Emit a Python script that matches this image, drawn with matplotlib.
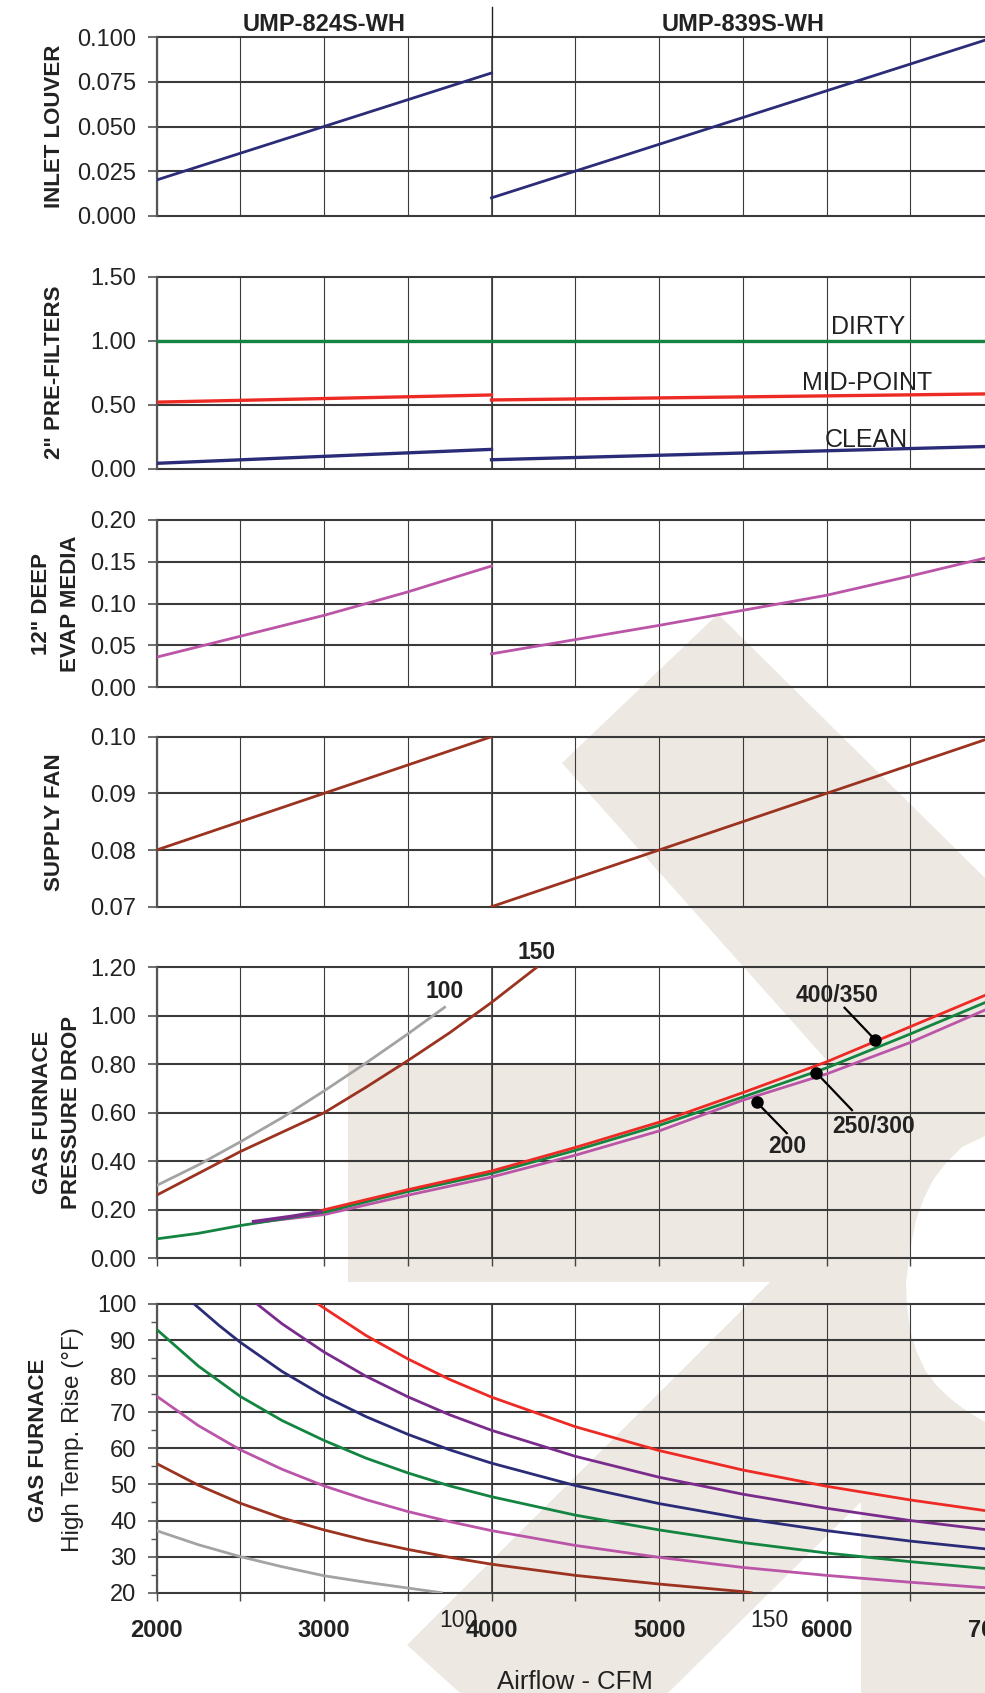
import matplotlib
matplotlib.use("Agg")
import matplotlib.pyplot as plt
import matplotlib.ticker as mtick
from matplotlib import font_manager
from matplotlib.patches import Polygon

# ── Fonts ─────────────────────────────────────────────────────────────────────

_names = {f.name for f in font_manager.fontManager.ttflist}
SANS = "Liberation Sans" if "Liberation Sans" in _names else "DejaVu Sans"

plt.rcParams.update({
    "font.family": SANS,
    "axes.spines.top": False,
    "axes.spines.right": False,
    "axes.spines.bottom": False,
})

# ── Colours ───────────────────────────────────────────────────────────────────

NAVY = "#2b2c78"
RED = "#ee2a25"
GREEN = "#138540"
ORCHID = "#bb55a8"
BROWN = "#9c3320"
GREY = "#a3a3a3"
PURPLE = "#7a2c8c"
GRIDC = "#3a3a3a"
INK = "#222222"
BEIGE = "#ede8e2"

# ── Data ──────────────────────────────────────────────────────────────────────

MODELS = ["UMP-824S-WH", "UMP-839S-WH"]
MODEL_CENTRES = [3000, 5500]
CFM_824 = [2000, 4000]
CFM_839 = [4000, 7000]
CFM_ALL = [2000, 7000]

# inlet louver
LOUVER_824 = [0.020, 0.080]
LOUVER_839 = [0.010, 0.100]
LOUVER_TICKS = [0.000, 0.025, 0.050, 0.075, 0.100]

# 2" pre-filters
FILTER_DIRTY = [1.00, 1.00]
FILTER_MID_824 = [0.520, 0.576]
FILTER_MID_839 = [0.537, 0.585]
FILTER_CLEAN_824 = [0.042, 0.151]
FILTER_CLEAN_839 = [0.070, 0.175]
FILTER_TICKS = [0.00, 0.50, 1.00, 1.50]
FILTER_NAMES = ["DIRTY", "MID-POINT", "CLEAN"]
FILTER_NAME_X = [6250, 6240, 6240]
FILTER_NAME_Y = [1.11, 0.667, 0.224]

# 12" deep evap media
MEDIA_CFM_824 = [2000, 2500, 3000, 3500, 4000]
MEDIA_824 = [0.036, 0.061, 0.086, 0.114, 0.145]
MEDIA_CFM_839 = [4000, 4500, 5000, 5500, 6000, 6500, 7000]
MEDIA_839 = [0.040, 0.057, 0.074, 0.092, 0.110, 0.133, 0.157]
MEDIA_TICKS = [0.00, 0.05, 0.10, 0.15, 0.20]

# supply fan
FAN_824 = [0.080, 0.100]
FAN_839 = [0.070, 0.100]
FAN_TICKS = [0.07, 0.08, 0.09, 0.10]

# gas furnace pressure drop
PD_100_CFM = [2000, 2250, 2500, 2750, 3000, 3250, 3500, 3720]
PD_100 = [0.300, 0.385, 0.480, 0.580, 0.690, 0.805, 0.925, 1.035]
PD_150_CFM = [2000, 2250, 2500, 2750, 3000, 3250, 3500, 3750, 4000, 4270]
PD_150 = [0.260, 0.350, 0.440, 0.520, 0.600, 0.705, 0.815, 0.930, 1.055, 1.200]
PD_CFM = [2000, 2250, 2500, 2750, 3000, 3500, 4000, 4500, 5000, 5500, 6000, 6500, 7000]
PD_250_300 = [0.080, 0.103, 0.135, 0.162, 0.190, 0.275, 0.350, 0.445, 0.548, 0.665, 0.785, 0.925, 1.070]
PD_400_CFM = [2950, 3000, 3500, 4000, 4500, 5000, 5500, 6000, 6500, 7000]
PD_400_350 = [0.190, 0.200, 0.283, 0.360, 0.457, 0.561, 0.683, 0.810, 0.955, 1.100]
PD_200_CFM = [2600, 3000, 3500, 4000, 4500, 5000, 5500, 6000, 6500, 7000]
PD_200 = [0.148, 0.180, 0.260, 0.335, 0.425, 0.525, 0.652, 0.760, 0.890, 1.040]
PD_350_CFM = [2580, 2800, 2980]
PD_350 = [0.151, 0.172, 0.192]
PD_TICKS = [0.00, 0.20, 0.40, 0.60, 0.80, 1.00, 1.20]
PD_END_LABELS = ["100", "150"]
PD_END_X = [3718, 4271]
PD_END_Y = [1.102, 1.263]

PD_LABELS = ["400/350", "250/300", "200"]
PD_LABEL_X = [6066, 6282, 5765]
PD_LABEL_Y = [1.085, 0.544, 0.459]
PD_LEAD_X = [6108, 6152, 5763]
PD_LEAD_Y = [1.033, 0.611, 0.516]
PD_DOT_X = [6290, 5938, 5584]
PD_DOT_Y = [0.901, 0.766, 0.643]

# gas furnace high temperature rise
TR_100_CFM = [2000, 2250, 2500, 2750, 3000, 3250, 3500, 3700]
TR_100 = [37.2, 33.3, 30.0, 27.2, 24.7, 22.9, 21.3, 20.0]
TR_150_CFM = [2000, 2250, 2500, 2750, 3000, 3250, 3500, 3750, 4000, 4500, 5000, 5500, 5550]
TR_150 = [55.8, 49.8, 44.8, 40.7, 37.4, 34.5, 32.0, 29.8, 27.9, 24.8, 22.4, 20.3, 20.0]
TR_CFM = [2000, 2250, 2500, 2750, 3000, 3250, 3500, 3750, 4000, 4500, 5000, 5500, 6000, 6500, 7000]
TR_200 = [74.5, 66.3, 59.6, 54.2, 49.6, 45.8, 42.5, 39.7, 37.2, 33.1, 29.8, 27.0, 24.8, 22.9, 21.2]
TR_250 = [93.0, 82.8, 74.4, 67.7, 62.2, 57.3, 53.2, 49.6, 46.6, 41.5, 37.4, 33.9, 31.0, 28.6, 26.5]
TR_300_CFM = [2225, 2375, 2500, 2750, 3000, 3250, 3500, 3750, 4000, 4500, 5000, 5500, 6000, 6500, 7000]
TR_300 = [100.0, 94.0, 89.4, 81.3, 74.5, 68.8, 63.9, 59.6, 55.9, 49.7, 44.7, 40.6, 37.2, 34.3, 31.9]
TR_350_CFM = [2600, 2750, 3000, 3250, 3500, 3750, 4000, 4500, 5000, 5500, 6000, 6500, 7000]
TR_350 = [100.0, 94.5, 86.7, 80.0, 74.3, 69.3, 65.0, 57.8, 52.0, 47.3, 43.4, 40.0, 37.2]
TR_400_CFM = [2965, 3000, 3250, 3500, 3750, 4000, 4500, 5000, 5500, 6000, 6500, 7000]
TR_400 = [100.0, 98.9, 91.3, 84.8, 79.1, 74.2, 66.0, 59.4, 54.0, 49.5, 45.7, 42.4]
TR_TICKS = list(range(20, 101, 10))
TR_END_LABELS = ["100", "150"]
TR_END_X = [3805, 5661]
TR_END_Y = [12.4, 12.4]

X_LABELS = [2000, 3000, 4000, 5000, 6000, 7000]

# ── Layout (pixels of the 985 x 1693 output) ─────────────────────────────────

W, H = 985, 1693
LEFT, RIGHT = 156.5, 994.0
PANELS = [(37.3, 215.7), (276.7, 468.7), (520.0, 687.3),
          (736.7, 906.7), (967.3, 1258.3), (1304.0, 1592.7)]

# faint background logo (figure pixels)
WATERMARK = [(348, 1064), (830, 1064), (562, 763), (718, 614), (985, 878),
             (985, 1136), (962, 1147), (946, 1163), (933, 1180), (924, 1198),
             (916, 1220), (911, 1245), (906, 1282), (907, 1305), (910, 1330),
             (916, 1350), (925, 1370), (937, 1386), (952, 1400), (968, 1412),
             (985, 1422), (985, 1693), (861, 1693), (861, 1502), (668, 1693),
             (460, 1693), (407, 1645), (770, 1282), (348, 1282)]

TICK_PT = 17


def add_panel(fig, top, bottom, ylim, yticks, fmt):
    ax = fig.add_axes([LEFT / W, 1 - bottom / H, (RIGHT - LEFT) / W, (bottom - top) / H])
    ax.patch.set_alpha(0)
    ax.set_xlim(2000, 7000)
    ax.set_ylim(*ylim)
    ax.xaxis.set_major_locator(mtick.MultipleLocator(500))
    ax.grid(axis="x", which="both", color=GRIDC, linewidth=0.8)
    ax.axvline(4000, color=GRIDC, linewidth=1.2)
    for y in yticks:
        ax.axhline(y, color=GRIDC, linewidth=1.5, clip_on=False, zorder=1.5)
    ax.set_yticks(yticks, [fmt.format(v) for v in yticks])
    ax.spines["left"].set_color("#555555")
    ax.spines["left"].set_linewidth(1.6)
    ax.tick_params(axis="x", bottom=False, labelbottom=False)
    ax.tick_params(axis="y", length=6.5, width=1.2, color="#555555", pad=8,
                   labelsize=TICK_PT, labelcolor=INK)
    return ax


def ylabel(fig, top, bottom, text, x=55):
    fig.text(x / W, 1 - (top + bottom) / 2 / H, text, rotation=90, ha="center",
             va="center", fontsize=16, fontweight="bold", color=INK,
             linespacing=1.45, multialignment="center")


def down_ticks(ax):
    ax.tick_params(axis="x", which="both", bottom=True, length=6, width=1.0,
                   color="#444444", direction="out")


fig = plt.figure(figsize=(W / 100, H / 100), dpi=100)
fig.add_artist(Polygon([(x / W, 1 - y / H) for x, y in WATERMARK], closed=True,
                       transform=fig.transFigure, facecolor=BEIGE,
                       edgecolor="none", zorder=-5))

LW = 2.0

# ── Panel 1: inlet louver ────────────────────────────────────────────────────
ax1 = add_panel(fig, *PANELS[0], (0, 0.1), LOUVER_TICKS, "{:.3f}")
ax1.plot(CFM_824, LOUVER_824, color=NAVY, lw=LW, zorder=3)
ax1.plot(CFM_839, LOUVER_839, color=NAVY, lw=LW, zorder=3)
ax1.axvline(4000, 1.0, 1.17, color=INK, lw=1.0, clip_on=False)
for name, cx in zip(MODELS, MODEL_CENTRES):
    ax1.text(cx, 1.069, name, transform=ax1.get_xaxis_transform(), ha="center",
             va="center", fontsize=17, fontweight="bold", color=INK)
ylabel(fig, *PANELS[0], "INLET LOUVER")

# ── Panel 2: pre-filters ─────────────────────────────────────────────────────
ax2 = add_panel(fig, *PANELS[1], (0, 1.5), FILTER_TICKS, "{:.2f}")
ax2.plot(CFM_ALL, FILTER_DIRTY, color=GREEN, lw=LW + 0.4, zorder=3)
ax2.plot(CFM_824, FILTER_MID_824, color=RED, lw=LW + 0.4, zorder=3)
ax2.plot(CFM_839, FILTER_MID_839, color=RED, lw=LW + 0.4, zorder=3)
ax2.plot(CFM_824, FILTER_CLEAN_824, color=NAVY, lw=LW + 0.4, zorder=3)
ax2.plot(CFM_839, FILTER_CLEAN_839, color=NAVY, lw=LW + 0.4, zorder=3)
for name, x, y in zip(FILTER_NAMES, FILTER_NAME_X, FILTER_NAME_Y):
    ax2.text(x, y, name, ha="center", va="center", fontsize=18, color=INK,
             zorder=4)
ylabel(fig, *PANELS[1], '2" PRE-FILTERS')

# ── Panel 3: evap media ──────────────────────────────────────────────────────
ax3 = add_panel(fig, *PANELS[2], (0, 0.2), MEDIA_TICKS, "{:.2f}")
ax3.plot(MEDIA_CFM_824, MEDIA_824, color=ORCHID, lw=LW, zorder=3)
ax3.plot(MEDIA_CFM_839, MEDIA_839, color=ORCHID, lw=LW, zorder=3)
ylabel(fig, *PANELS[2], '12" DEEP\nEVAP MEDIA', x=56)

# ── Panel 4: supply fan ──────────────────────────────────────────────────────
ax4 = add_panel(fig, *PANELS[3], (0.07, 0.1), FAN_TICKS, "{:.2f}")
ax4.plot(CFM_824, FAN_824, color=BROWN, lw=LW, zorder=3)
ax4.plot(CFM_839, FAN_839, color=BROWN, lw=LW, zorder=3)
ylabel(fig, *PANELS[3], "SUPPLY FAN")

# ── Panel 5: gas furnace pressure drop ───────────────────────────────────────
ax5 = add_panel(fig, *PANELS[4], (0, 1.2), PD_TICKS, "{:.2f}")
down_ticks(ax5)
ax5.plot(PD_100_CFM, PD_100, color=GREY, lw=LW, zorder=3)
ax5.plot(PD_150_CFM, PD_150, color=BROWN, lw=LW, zorder=3)
ax5.plot(PD_200_CFM, PD_200, color=ORCHID, lw=LW, zorder=3)
ax5.plot(PD_CFM, PD_250_300, color=GREEN, lw=LW, zorder=3.1)
ax5.plot(PD_400_CFM, PD_400_350, color=RED, lw=LW, zorder=3.2)
ax5.plot(PD_350_CFM, PD_350, color=PURPLE, lw=LW + 0.6, zorder=3.3)
for name, x, y in zip(PD_END_LABELS, PD_END_X, PD_END_Y):
    ax5.text(x, y, name, ha="center", va="center", fontsize=16.5,
             fontweight="bold", color=INK)
for name, lx, ly, ex, ey, dx, dy in zip(PD_LABELS, PD_LABEL_X, PD_LABEL_Y,
                                        PD_LEAD_X, PD_LEAD_Y, PD_DOT_X, PD_DOT_Y):
    ax5.text(lx, ly, name, ha="center", va="center", fontsize=16.5,
             fontweight="bold", color=INK, zorder=5)
    ax5.plot([ex, dx], [ey, dy], color="black", lw=1.6, zorder=5)
    ax5.plot(dx, dy, "o", color="black", markersize=8, zorder=6)
ylabel(fig, *PANELS[4], "GAS FURNACE\nPRESSURE DROP", x=57)

# ── Panel 6: gas furnace temperature rise ────────────────────────────────────
ax6 = add_panel(fig, *PANELS[5], (20, 100), TR_TICKS, "{:d}")
ax6.yaxis.set_minor_locator(mtick.MultipleLocator(5))
ax6.tick_params(axis="y", which="minor", length=4.5, width=1.0, color="#555555")
ax6.set_xticks(X_LABELS, [str(v) for v in X_LABELS])
ax6.xaxis.set_minor_locator(mtick.MultipleLocator(500))
down_ticks(ax6)
ax6.tick_params(axis="x", labelbottom=True, labelsize=TICK_PT, pad=13,
                labelcolor=INK)
for lbl in ax6.get_xticklabels():
    lbl.set_fontweight("bold")
ax6.plot(TR_100_CFM, TR_100, color=GREY, lw=LW, zorder=3)
ax6.plot(TR_150_CFM, TR_150, color=BROWN, lw=LW, zorder=3)
ax6.plot(TR_CFM, TR_200, color=ORCHID, lw=LW, zorder=3)
ax6.plot(TR_CFM, TR_250, color=GREEN, lw=LW, zorder=3)
ax6.plot(TR_300_CFM, TR_300, color=NAVY, lw=LW, zorder=3)
ax6.plot(TR_350_CFM, TR_350, color=PURPLE, lw=LW, zorder=3)
ax6.plot(TR_400_CFM, TR_400, color=RED, lw=LW, zorder=3)
for name, x, y in zip(TR_END_LABELS, TR_END_X, TR_END_Y):
    ax6.text(x, y, name, ha="center", va="center", fontsize=16.5, color=INK)
ax6.set_xlabel("Airflow - CFM", fontsize=18.5, color=INK)
ax6.xaxis.set_label_coords(4500, -0.31, transform=ax6.get_xaxis_transform())
ax6.xaxis.label.set_va("center")
cy = 1 - 1440 / H
fig.text(39 / W, cy, "GAS FURNACE", rotation=90, ha="center", va="center",
         fontsize=16, fontweight="bold", color=INK)
fig.text(73 / W, cy, "High Temp. Rise (°F)", rotation=90, ha="center",
         va="center", fontsize=17.5, color=INK)

fig.savefig("out.png", dpi=100)
